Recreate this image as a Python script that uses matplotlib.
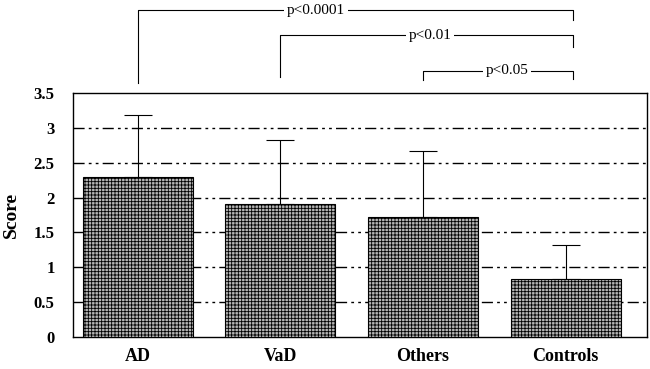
import numpy as np
import matplotlib
matplotlib.use("Agg")
import matplotlib.pyplot as plt

plt.rcParams['font.family'] = ['Liberation Serif', 'DejaVu Serif']
plt.rcParams['hatch.linewidth'] = 0.6
plt.rcParams['hatch.color'] = '#333333'

# Data
groups = ['AD', 'VaD', 'Others', 'Controls']
means = [2.30, 1.91, 1.72, 0.83]
sds = [0.89, 0.92, 0.95, 0.49]
yticks = [0, 0.5, 1, 1.5, 2, 2.5, 3, 3.5]
ytick_labels = ['0', '0.5', '1', '1.5', '2', '2.5', '3', '3.5']

# significance brackets: (left group, label)
comparisons = [(0, 'p<0.0001'), (1, 'p<0.01'), (2, 'p<0.05')]

fig = plt.figure(figsize=(6.5, 3.69), dpi=100)
ax = fig.add_axes([0.112, 0.0867, 0.883, 0.661])

x = np.arange(len(groups))
ax.bar(x, means, width=0.77, color='#b4b4b4', edgecolor='black',
       hatch='+++++', linewidth=0.8, zorder=3)
ax.errorbar(x, means, yerr=[np.zeros(len(sds)), sds], fmt='none',
            ecolor='black', elinewidth=0.8, capsize=10, capthick=0.8, zorder=2)

# dash-dot-dot gridlines behind the bars
for yv in yticks[1:-1]:
    ax.axhline(yv, color='black', lw=1.0, dashes=(8, 3, 2, 3, 2, 3), zorder=1)

ax.set_xlim(-0.455, 3.568)
ax.set_ylim(0, 3.5)
ax.set_yticks(yticks)
ax.set_yticklabels(ytick_labels, fontsize=12, fontweight='bold')
ax.set_xticks(x)
ax.set_xticklabels(groups, fontsize=13, fontweight='bold')
ax.tick_params(axis='y', length=0, pad=13)
ax.tick_params(axis='x', length=0, pad=8)
ax.set_ylabel('Score', fontsize=14, fontweight='bold', labelpad=10)
for s in ax.spines.values():
    s.set_linewidth(1.0)

# brackets above the plot
right_x = 3.05
levels = [4.69, 4.33, 3.82]
left_bottom = [3.64, 3.73, 3.69]
right_bottom = [4.55, 4.16, 3.70]
text_x = [1.25, 2.05, 2.59]
for k, (i, label) in enumerate(comparisons):
    ax.plot([i, i, right_x, right_x],
            [left_bottom[k], levels[k], levels[k], right_bottom[k]],
            color='black', lw=0.8, clip_on=False)
    ax.text(text_x[k], levels[k], label, ha='center', va='center', fontsize=11,
            bbox=dict(facecolor='white', edgecolor='none', pad=2), clip_on=False)

fig.savefig('out.png', dpi=100)
